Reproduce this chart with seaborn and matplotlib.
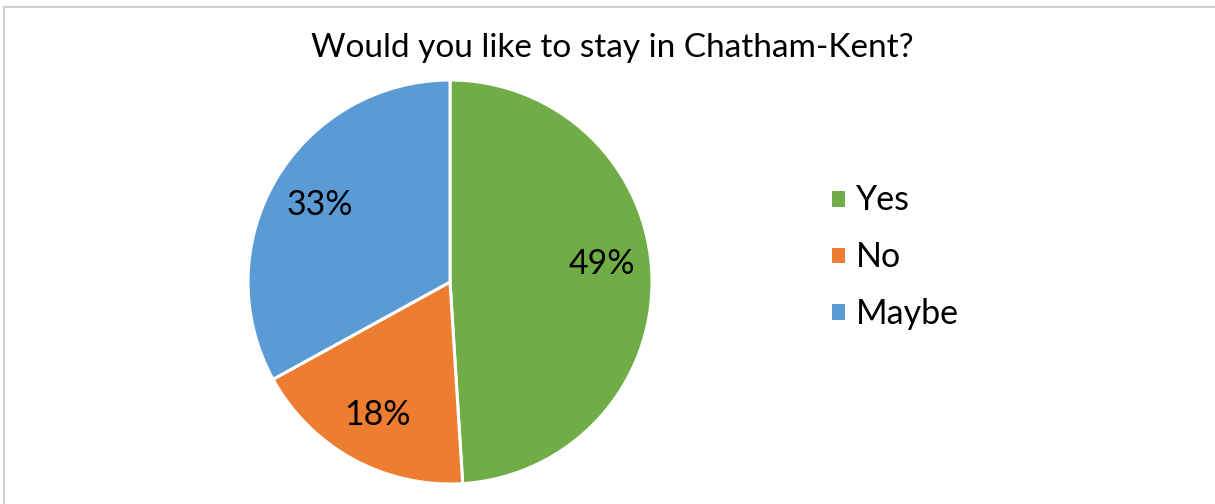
import matplotlib
matplotlib.use("Agg")
import matplotlib.pyplot as plt
from matplotlib.patches import Rectangle
import seaborn as sns

categories = ["Yes", "No", "Maybe"]
values = [49, 18, 33]
colors = ["#70AD47", "#ED7D31", "#5B9BD5"]
title = "Would you like to stay in Chatham-Kent?"

sns.set_theme(style="white")
plt.rcParams['font.family'] = ['Lato', 'DejaVu Sans']

W, H = 1215, 504
fig = plt.figure(figsize=(W / 100, H / 100), dpi=100)
fig.patch.set_facecolor("white")

cx, cy, r = 450, 282, 202
ax = fig.add_axes([(cx - r) / W, (H - cy - r) / H, 2 * r / W, 2 * r / H])
wedges, texts, autotexts = ax.pie(
    values, colors=colors, startangle=90, counterclock=False,
    autopct=lambda p: f"{p:.0f}%", pctdistance=0.75, radius=1,
    wedgeprops=dict(edgecolor="white", linewidth=2.2),
    textprops=dict(fontsize=24.5, color="#000000"))
# nudge the first label slightly upward like the reference's best-fit placement
x0, y0 = autotexts[0].get_position()
autotexts[0].set_position((x0, y0 + 0.065))
ax.set_xlim(-1.0, 1.0)
ax.set_ylim(-1.0, 1.0)
ax.set_aspect("equal")
ax.axis("off")

fig.text(612 / W, 1 - 48 / H, title, ha="center", va="center",
         fontsize=24, color="#000000")

leg = fig.legend(wedges, categories, loc="center left",
                 bbox_to_anchor=(830 / W, 1 - 257 / H), frameon=False,
                 fontsize=24.5, labelspacing=0.72, handlelength=0.47,
                 handleheight=0.47, handletextpad=0.3, borderaxespad=0,
                 borderpad=0)
for t in leg.get_texts():
    t.set_color("#000000")

fig.add_artist(Rectangle((4 / W, -0.1), 1.2, 1 - 7 / H + 0.1,
                         transform=fig.transFigure, fill=False,
                         edgecolor="#D0D0D0", linewidth=1.5))

fig.savefig("out.png", dpi=100, facecolor="white")
